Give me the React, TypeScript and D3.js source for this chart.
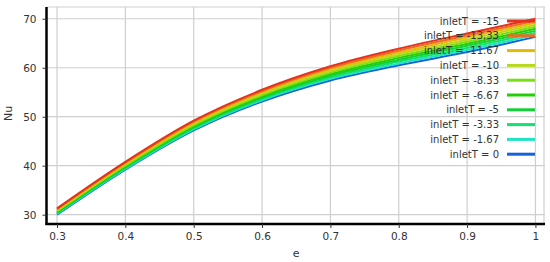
import { useEffect, useRef } from 'react';
import * as d3 from 'd3';

// e values sampled along x
const eValues = [0.3, 0.4, 0.5, 0.6, 0.7, 0.8, 0.9, 1.0];

// inlet temperatures (legend order)
const inletTs = ['-15', '-13.33', '-11.67', '-10', '-8.33', '-6.67', '-5', '-3.33', '-1.67', '0'];

const seriesColors = [
  '#e4331c', '#f06a22', '#e2bb06', '#b9d81a', '#7adf18',
  '#22cf06', '#12d038', '#12e070', '#22e2c4', '#1462dc',
];

// Nu per series, one value per e
const nuM15 = [31.3, 40.8, 49.2, 55.5, 60.3, 63.9, 67.0, 70.0];
const nuM1333 = [31.15, 40.6, 48.98, 55.23, 59.98, 63.52, 66.58, 69.59];
const nuM1167 = [31.0, 40.4, 48.76, 54.97, 59.66, 63.14, 66.16, 69.18];
const nuM10 = [30.85, 40.25, 48.53, 54.7, 59.33, 62.77, 65.73, 68.77];
const nuM833 = [30.7, 40.05, 48.31, 54.43, 59.01, 62.39, 65.31, 68.36];
const nuM667 = [30.55, 39.9, 48.09, 54.17, 58.69, 62.01, 64.89, 67.94];
const nuM5 = [30.4, 39.7, 47.87, 53.9, 58.37, 61.63, 64.47, 67.53];
const nuM333 = [30.3, 39.55, 47.64, 53.63, 58.04, 61.26, 64.04, 67.12];
const nuM167 = [30.15, 39.35, 47.42, 53.37, 57.72, 60.88, 63.62, 66.71];
const nu0 = [30.0, 39.2, 47.2, 53.1, 57.4, 60.5, 63.2, 66.3];

const allSeries = [nuM15, nuM1333, nuM1167, nuM10, nuM833, nuM667, nuM5, nuM333, nuM167, nu0];

const xTicks = [0.3, 0.4, 0.5, 0.6, 0.7, 0.8, 0.9, 1];
const yTicks = [30, 40, 50, 60, 70];

export default function App() {
  const svgRef = useRef<SVGSVGElement>(null);

  useEffect(() => {
    if (!svgRef.current) return;
    const svg = d3.select(svgRef.current);
    svg.selectAll('*').remove();

    const left = 46.5, right = 545, top = 7, bottom = 224;
    const font = 'DejaVu Sans, sans-serif';

    const x = d3.scaleLinear().domain([0.2846, 1.014]).range([left, right]);
    const y = d3.scaleLinear().domain([28.1, 72.4]).range([bottom, top]);

    // grid
    const grid = svg.append('g').attr('stroke', '#cfcfcf').attr('stroke-width', 1.2);
    grid.selectAll('.vx')
      .data(xTicks)
      .enter()
      .append('line')
      .attr('x1', d => x(d)).attr('x2', d => x(d))
      .attr('y1', top).attr('y2', bottom);
    grid.selectAll('.hy')
      .data(yTicks)
      .enter()
      .append('line')
      .attr('y1', d => y(d)).attr('y2', d => y(d))
      .attr('x1', left).attr('x2', right);
    // frame top / right
    grid.append('line').attr('x1', left).attr('x2', right).attr('y1', top).attr('y2', top);
    grid.append('line').attr('x1', right - 1).attr('x2', right - 1).attr('y1', top).attr('y2', bottom);

    // curves, blue first so red sits on top
    const line = d3.line<number>()
      .x((_, i) => x(eValues[i]))
      .y(d => y(d))
      .curve(d3.curveCatmullRom);

    const order = d3.range(allSeries.length).reverse();
    svg.append('g')
      .selectAll('path')
      .data(order)
      .enter()
      .append('path')
      .attr('d', i => line(allSeries[i]))
      .attr('fill', 'none')
      .attr('stroke', i => seriesColors[i])
      .attr('stroke-width', 2);

    // axes
    const xAxis = d3.axisBottom(x).tickValues(xTicks).tickSize(4).tickFormat(d => String(d));
    const gx = svg.append('g').attr('transform', `translate(0,${bottom})`).call(xAxis);
    gx.select('.domain').attr('stroke', '#000').attr('stroke-width', 2.5).attr('d', `M${left - 1},0H${right}`);
    gx.selectAll('.tick line').attr('stroke', '#333');
    gx.selectAll('.tick text')
      .attr('fill', '#333').attr('font-family', font).attr('font-size', 10.5).attr('dy', '0.9em');

    const yAxis = d3.axisLeft(y).tickValues(yTicks).tickSize(4);
    const gy = svg.append('g').attr('transform', `translate(${left},0)`).call(yAxis);
    gy.select('.domain').attr('stroke', '#000').attr('stroke-width', 2.5).attr('d', `M0,${top}V${bottom + 1}`);
    gy.selectAll('.tick line').attr('stroke', '#333');
    gy.selectAll('.tick text')
      .attr('fill', '#333').attr('font-family', font).attr('font-size', 10.5).attr('x', -10);

    // axis titles
    svg.append('text')
      .attr('x', (left + right) / 2 + 0.5)
      .attr('y', 257)
      .attr('text-anchor', 'middle')
      .attr('font-family', font).attr('font-size', 11).attr('fill', '#333')
      .text('e');
    svg.append('text')
      .attr('transform', `translate(12,${(top + bottom) / 2 - 2}) rotate(-90)`)
      .attr('text-anchor', 'middle')
      .attr('font-family', font).attr('font-size', 11).attr('fill', '#333')
      .text('Nu');

    // legend
    const legend = svg.append('g');
    inletTs.forEach((t, i) => {
      const ly = 21 + i * 14.8;
      legend.append('text')
        .attr('x', 499).attr('y', ly).attr('dy', '0.35em')
        .attr('text-anchor', 'end')
        .attr('font-family', font).attr('font-size', 10).attr('fill', '#333')
        .text(`inletT = ${t}`);
      legend.append('line')
        .attr('x1', 507).attr('x2', 535)
        .attr('y1', ly).attr('y2', ly)
        .attr('stroke', seriesColors[i]).attr('stroke-width', 3);
    });
  }, []);

  return (
    <svg
      ref={svgRef}
      width={550}
      height={262}
      style={{ position: 'absolute', left: 0, top: 0, background: '#fff' }}
    />
  );
}
